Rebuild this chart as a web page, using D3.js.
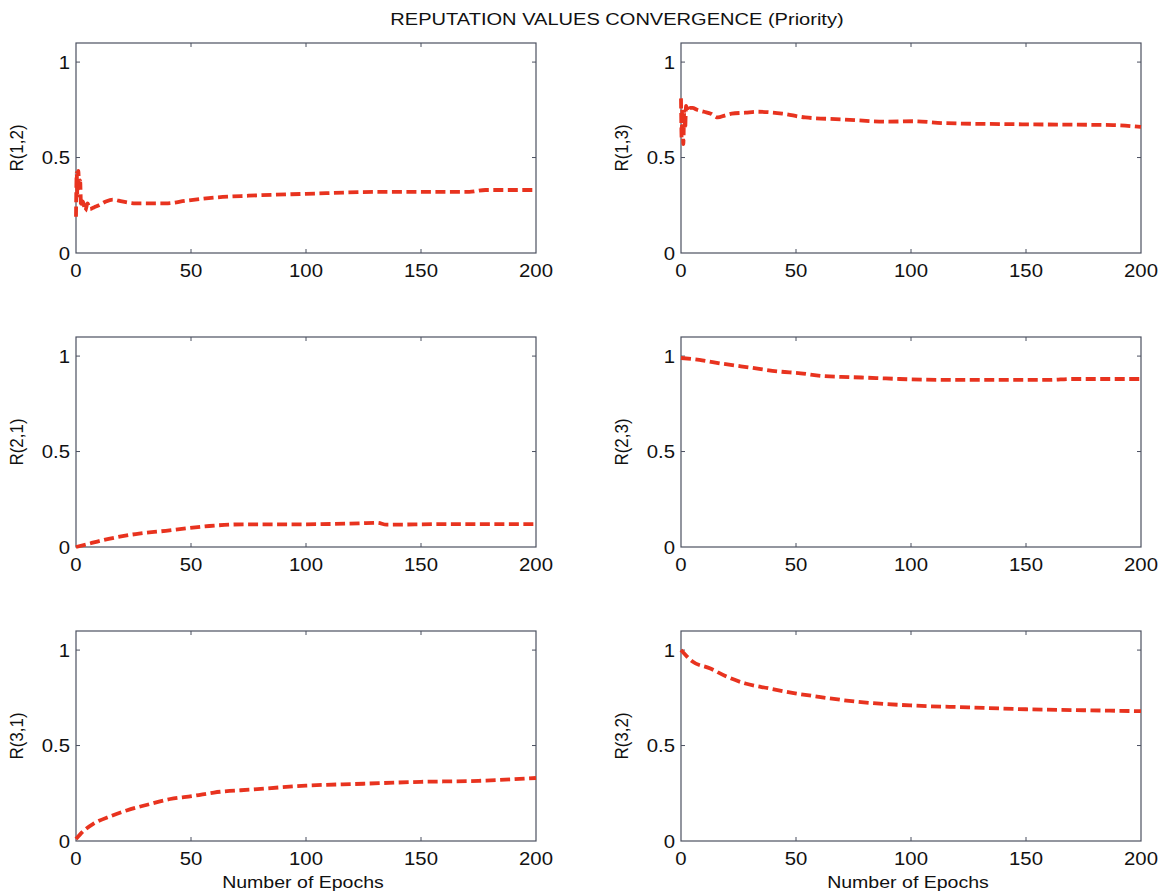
<!DOCTYPE html>
<html>
<head>
<meta charset="utf-8">
<script src="https://cdn.jsdelivr.net/npm/d3@7"></script>
<style>
  html, body { margin: 0; padding: 0; background: #fff; }
  svg { display: block; }
  text { font-family: "Liberation Sans", Arial, sans-serif; fill: #111; }
</style>
</head>
<body>
<svg id="chart" width="1169" height="891"></svg>
<script>
// ---- Data ----
const title = "REPUTATION VALUES CONVERGENCE (Priority)";
const xLabel = "Number of Epochs";
const xTicks = [0, 50, 100, 150, 200];
const yTicks = [0, 0.5, 1];
const yTickLabels = ["0", "0.5", "1"];
const panelLabels = ["R(1,2)", "R(1,3)", "R(2,1)", "R(2,3)", "R(3,1)", "R(3,2)"];

const epochsR12 = [0, 0.3, 0.6, 1, 1.4, 1.8, 2.2, 3, 4, 5, 6, 8, 10, 13, 16, 20, 26, 32, 39, 48, 60, 75, 100, 132, 150, 171, 178, 200];
const valuesR12 = [0.19, 0.42, 0.30, 0.43, 0.34, 0.38, 0.24, 0.27, 0.22, 0.26, 0.23, 0.24, 0.25, 0.27, 0.28, 0.27, 0.26, 0.26, 0.26, 0.274, 0.29, 0.30, 0.31, 0.32, 0.32, 0.32, 0.33, 0.33];

const epochsR13 = [0, 0.3, 0.6, 1, 1.4, 1.8, 2.2, 3, 4, 5, 7, 10, 13, 16, 19, 22, 28, 33, 44, 54, 70, 90, 101, 115, 150, 188, 200];
const valuesR13 = [0.81, 0.60, 0.76, 0.57, 0.74, 0.65, 0.77, 0.74, 0.76, 0.76, 0.75, 0.74, 0.73, 0.71, 0.72, 0.73, 0.735, 0.74, 0.73, 0.71, 0.70, 0.688, 0.69, 0.68, 0.674, 0.67, 0.66];

const epochsR21 = [0, 5, 12, 19, 26, 39, 48, 58, 73, 99, 123, 131, 135, 160, 200];
const valuesR21 = [0.0, 0.015, 0.037, 0.054, 0.068, 0.085, 0.098, 0.11, 0.119, 0.119, 0.124, 0.127, 0.117, 0.12, 0.12];

const epochsR23 = [0, 8, 18, 30, 42, 52, 62, 73, 85, 95, 120, 160, 170, 200];
const valuesR23 = [0.99, 0.98, 0.96, 0.94, 0.92, 0.91, 0.895, 0.89, 0.885, 0.88, 0.875, 0.875, 0.88, 0.88];

const epochsR31 = [0, 3, 7.5, 15, 22, 31, 41, 51, 60, 77, 100, 125, 150, 175, 200];
const valuesR31 = [0.01, 0.05, 0.09, 0.13, 0.16, 0.19, 0.22, 0.236, 0.254, 0.27, 0.29, 0.30, 0.31, 0.315, 0.33];

const epochsR32 = [0, 5, 12.5, 20, 28, 38, 49, 60, 76, 100, 125, 150, 175, 200];
const valuesR32 = [1.0, 0.94, 0.905, 0.86, 0.825, 0.80, 0.775, 0.755, 0.73, 0.71, 0.70, 0.69, 0.685, 0.68];

const series = [
  [epochsR12, valuesR12], [epochsR13, valuesR13],
  [epochsR21, valuesR21], [epochsR23, valuesR23],
  [epochsR31, valuesR31], [epochsR32, valuesR32]
];

// ---- Layout ----
const svg = d3.select("#chart");
const colLeft = [76, 681];
const plotW = 460;
const rowTop = [43, 337, 631];
const plotH = 210;
const axisColor = "#4b5060";
const lineColor = "#e8331f";
const sx = 1.13; // horizontal stretch of the reference glyphs

function label(parent, x, y, str, size, anchor, stretch) {
  return parent.append("text")
    .attr("transform", `translate(${x},${y}) scale(${stretch || sx},1)`)
    .attr("text-anchor", anchor)
    .style("font-size", size + "px")
    .text(str);
}

label(svg, 617, 25, title, 17, "middle", 1.18);

series.forEach((s, i) => {
  const col = i % 2, row = Math.floor(i / 2);
  const x0 = colLeft[col], y0 = rowTop[row];
  const g = svg.append("g").attr("transform", `translate(${x0},${y0})`);

  const x = d3.scaleLinear().domain([0, 200]).range([0, plotW]);
  const y = d3.scaleLinear().domain([0, 1.1]).range([plotH, 0]);

  // frame
  g.append("rect").attr("x", 0).attr("y", 0).attr("width", plotW).attr("height", plotH)
    .attr("fill", "none").attr("stroke", axisColor).attr("stroke-width", 1.2);

  // inner ticks
  const tl = 4;
  xTicks.slice(1, -1).forEach(t => {
    g.append("line").attr("x1", x(t)).attr("x2", x(t)).attr("y1", plotH).attr("y2", plotH - tl)
      .attr("stroke", axisColor).attr("stroke-width", 1);
    g.append("line").attr("x1", x(t)).attr("x2", x(t)).attr("y1", 0).attr("y2", tl)
      .attr("stroke", axisColor).attr("stroke-width", 1);
  });
  yTicks.slice(1).forEach(t => {
    g.append("line").attr("x1", 0).attr("x2", tl).attr("y1", y(t)).attr("y2", y(t))
      .attr("stroke", axisColor).attr("stroke-width", 1);
    g.append("line").attr("x1", plotW).attr("x2", plotW - tl).attr("y1", y(t)).attr("y2", y(t))
      .attr("stroke", axisColor).attr("stroke-width", 1);
  });

  // tick labels
  xTicks.forEach(t => label(g, x(t), plotH + 24, String(t), 18, "middle"));
  yTicks.forEach((t, k) => label(g, -6, y(t) + 6.5, yTickLabels[k], 18, "end"));

  // y label
  g.append("text")
    .attr("transform", `translate(${-53},${plotH / 2}) rotate(-90) scale(1,${sx})`)
    .attr("text-anchor", "middle").style("font-size", "17px")
    .text(panelLabels[i]);

  if (row === 2) {
    label(g, plotW / 2 - 3, plotH + 47, xLabel, 17, "middle", 1.15);
  }

  // curve
  const pts = s[0].map((e, k) => [e, s[1][k]]);
  const line = d3.line().x(d => x(d[0])).y(d => y(d[1])).curve(d3.curveMonotoneX);
  g.append("path").datum(pts).attr("d", line)
    .attr("fill", "none").attr("stroke", lineColor).attr("stroke-width", 3.8)
    .attr("stroke-dasharray", "10,4.5").attr("stroke-linejoin", "round");
});
</script>
</body>
</html>
